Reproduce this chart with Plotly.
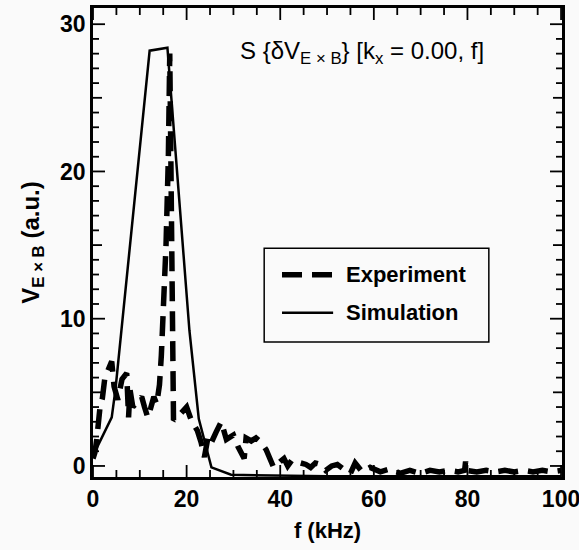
import plotly.graph_objects as go

# ---- data ----
exp_f = [0, 0.4, 0.8, 1.1, 1.5, 2.0, 2.5, 3.2, 4.0, 4.5, 5.3, 6.2, 7.2, 7.6, 7.9, 8.5, 9.3, 10.4, 11.0, 11.7,
         12.3, 13.0, 13.6, 14.2, 14.6, 15.0, 15.6, 16.1, 16.4, 16.6, 16.8, 17.0, 17.2, 18.0, 18.9, 20.0, 21.0, 22.3, 23.1, 23.8,
         24.6, 25.3, 26.3, 27.4, 28.5, 30.0, 31.0, 32.3, 32.7, 33.8, 34.8, 35.9, 37.0, 38.0, 38.6, 40.0, 40.8, 41.6, 42.5, 43.3,
         44.4, 45.5, 46.5, 47.5, 48.6, 49.7, 51.0, 52.2, 53.9, 55.0, 56.0, 57.5, 59.2, 61.4, 63.5, 65.6, 67.7, 69.9, 72, 74,
         76, 78, 79.4, 79.6, 79.8, 82, 84, 86, 88, 90, 92, 94, 96, 98, 100]
exp_v = [0.5, 0.9, 1.8, 3.1, 4.0, 4.6, 5.9, 6.5, 7.1, 5.4, 4.5, 5.9, 6.3, 3.3, 5.2, 4.0, 4.3, 4.7, 4.0, 3.3,
         3.9, 4.7, 4.2, 5.5, 7.5, 10.4, 15, 21, 28, 22, 12, 4.7, 3.1, 3.3, 3.6, 4.0, 3.1, 2.4, 1.6, 0.6,
         2.0, 1.6, 2.3, 3.0, 1.8, 2.1, 1.3, 0.5, 1.9, 1.7, 1.9, 1.6, 1.1, 0.4, -0.1, 0.3, 0.5, 0.0, 0.4, 0.3,
         0.2, 0.1, -0.1, 0.2, 0.1, -0.3, 0.0, 0.1, -0.3, -0.5, 0.2, -0.4, -0.1, -0.4, -0.2, -0.5, -0.3, -0.5, -0.3, -0.4,
         -0.3, -0.4, -0.3, 0.3, -0.3, -0.4, -0.3, -0.4, -0.3, -0.4, -0.3, -0.4, -0.3, -0.4, -0.3]

sim_f = [0, 4.0, 4.8, 12.1, 15.9, 20.6, 22.6, 23.8, 25.3, 29.5, 50, 100]
sim_v = [0.7, 3.3, 5.2, 28.2, 28.4, 9.2, 3.2, 1.8, -0.1, -0.6, -0.7, -0.7]

x_ticks = [0, 20, 40, 60, 80, 100]
y_ticks = [0, 10, 20, 30]
x_minor_step = 5
y_minor_step = 1

series_names = ["Experiment", "Simulation"]

FONT = "Liberation Sans"
INK = "#000000"
W, H = 579, 550
ML, MR, MT, MB = 93, 17, 8, 73
PW, PH = W - ML - MR, H - MT - MB
X_RANGE = [0, 100.2]
Y_RANGE = [-0.75, 31.1]
XS = (X_RANGE[1] - X_RANGE[0]) / PW   # data units per pixel (x)
YS = (Y_RANGE[1] - Y_RANGE[0]) / PH   # data units per pixel (y)

fig = go.Figure()
fig.add_trace(go.Scatter(x=exp_f, y=exp_v, mode="lines", name=series_names[0],
                         line=dict(color=INK, width=5.5, dash="20px,10px")))
fig.add_trace(go.Scatter(x=sim_f, y=sim_v, mode="lines", name=series_names[1],
                         line=dict(color=INK, width=2.5)))

# inside tick marks on all four sides, drawn as one line trace (axis decoration)
tx, ty = [], []
for v in range(x_ticks[0], x_ticks[-1] + 1, x_minor_step):
    ln = 12 if v in x_ticks else 7
    tx += [v, v, None, v, v, None]
    ty += [Y_RANGE[0], Y_RANGE[0] + ln * YS, None, Y_RANGE[1], Y_RANGE[1] - ln * YS, None]
for v in range(y_ticks[0], y_ticks[-1] + 1, y_minor_step):
    ln = 12 if v in y_ticks else (9 if v % 5 == 0 else 6)
    tx += [X_RANGE[0], X_RANGE[0] + ln * XS, None, X_RANGE[1], X_RANGE[1] - ln * XS, None]
    ty += [v, v, None, v, v, None]
fig.add_trace(go.Scatter(x=tx, y=ty, mode="lines", line=dict(color=INK, width=1.8),
                         hoverinfo="skip", showlegend=False, cliponaxis=False, name="ticks"))

tick_font = dict(family=FONT, size=23, color=INK)

fig.update_layout(
    xaxis=dict(range=X_RANGE, tickmode="array", tickvals=x_ticks, automargin=False,
               ticktext=["<b>%d</b>" % v for v in x_ticks], ticklabeloverflow="allow",
               ticks="", showline=True, linecolor=INK, linewidth=2.5, mirror=True,
               showgrid=False, zeroline=False, tickfont=tick_font,
               title=dict(text="<b>f (kHz)</b>", font=dict(family=FONT, size=22, color=INK), standoff=12)),
    yaxis=dict(range=Y_RANGE, tickmode="array", tickvals=y_ticks, automargin=False,
               ticktext=["<b>%d</b>" % v for v in y_ticks],
               ticks="", showline=True, linecolor=INK, linewidth=2.5, mirror=True,
               showgrid=False, zeroline=False, tickfont=tick_font,
               title=dict(text="<b>V<sub>E × B</sub> (a.u.)</b>", font=dict(family=FONT, size=24, color=INK), standoff=14)),
)

# custom legend box (paper coordinates)
lx0, lx1, ly0, ly1 = 0.365, 0.844, 0.288, 0.488
fig.add_shape(type="rect", xref="paper", yref="paper", x0=lx0, x1=lx1, y0=ly0, y1=ly1,
              line=dict(color=INK, width=1.5), fillcolor="rgba(0,0,0,0)")
leg_y = [0.431, 0.350]
leg_dash = ["20px,10px", "solid"]
leg_w = [5.5, 2.5]
for name, yy, dsh, w in zip(series_names, leg_y, leg_dash, leg_w):
    fig.add_shape(type="line", xref="paper", yref="paper", x0=0.403, x1=0.512, y0=yy, y1=yy,
                  line=dict(color=INK, width=w, dash=dsh))
    fig.add_annotation(xref="paper", yref="paper", x=0.536, y=yy, xanchor="left", yanchor="middle",
                       text="<b>" + name + "</b>", showarrow=False,
                       font=dict(family=FONT, size=22, color=INK))

fig.add_annotation(xref="paper", yref="paper", x=0.31, y=0.905, xanchor="left", yanchor="middle",
                   text="S {δV<sub>E × B</sub>} [k<sub>x</sub> = 0.00, f]", showarrow=False,
                   font=dict(family=FONT, size=24, color=INK))

fig.update_layout(width=W, height=H, margin=dict(l=ML, r=MR, t=MT, b=MB),
                  paper_bgcolor="#fafafa", plot_bgcolor="#fafafa", showlegend=False)

fig.write_html("out.html")
